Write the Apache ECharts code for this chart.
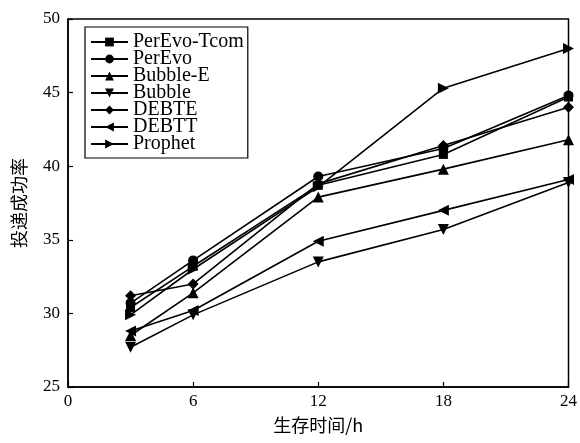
<!DOCTYPE html>
<html>
<head>
<meta charset="utf-8">
<script src="https://cdn.jsdelivr.net/npm/echarts@6/dist/echarts.min.js"></script>
<style>
  html, body { margin: 0; padding: 0; background: #fff; }
  #chart { width: 580px; height: 443px; }
</style>
</head>
<body>
<div id="chart"></div>
<script>
// Survival time (hours) on the x axis
const hours = [3, 6, 12, 18, 24];

// Delivery success rate per routing scheme
const perEvoTcom = [30.4, 33.2, 38.7, 40.8, 44.7];
const perEvo     = [30.7, 33.6, 39.3, 41.2, 44.8];
const bubbleE    = [28.5, 31.4, 37.9, 39.8, 41.8];
const bubble     = [27.7, 29.9, 33.5, 35.7, 38.9];
const debte      = [31.2, 32.0, 38.8, 41.4, 44.0];
const debtt      = [28.8, 30.2, 34.9, 37.0, 39.1];
const prophet    = [29.9, 33.0, 38.6, 45.3, 48.0];

const xTicks = [0, 6, 12, 18, 24];
const yTicks = [25, 30, 35, 40, 45, 50];

const FONT = '"Liberation Serif", "Times New Roman", serif';
const CJK = '"Noto Sans CJK SC", sans-serif';

const triDown  = 'path://M0,0 L10,0 L5,9 Z';
const triLeft  = 'path://M9,0 L9,10 L0,5 Z';
const triRight = 'path://M0,0 L0,10 L9,5 Z';

function line(name, values, symbol, size) {
  return {
    name: name,
    type: 'line',
    data: hours.map((h, i) => [h, values[i]]),
    symbol: symbol,
    symbolSize: size,
    showSymbol: true,
    lineStyle: { color: '#000', width: 1.6 },
    itemStyle: { color: '#000', borderColor: '#000', borderWidth: 0 },
    emphasis: { disabled: true },
    animation: false
  };
}

const chart = echarts.init(document.getElementById('chart'), null, { renderer: 'canvas' });
chart.setOption({
  animation: false,
  backgroundColor: '#fff',
  grid: {
    left: 68, right: 9, top: 19, bottom: 56,
    show: true, borderColor: '#000', borderWidth: 1.5, backgroundColor: 'transparent'
  },
  legend: {
    orient: 'vertical',
    left: 85, top: 27,
    padding: [5, 4, 4, 5],
    itemGap: -3,
    itemWidth: 37, itemHeight: 11,
    borderColor: '#000', borderWidth: 1.2,
    textStyle: { fontFamily: FONT, fontSize: 20, color: '#000' },
    data: ['PerEvo-Tcom', 'PerEvo', 'Bubble-E', 'Bubble', 'DEBTE', 'DEBTT', 'Prophet']
  },
  xAxis: {
    type: 'value',
    min: 0, max: 24, interval: 6,
    name: '生存时间/h',
    nameLocation: 'middle',
    nameGap: 29,
    nameTextStyle: { fontFamily: CJK, fontSize: 18, color: '#000' },
    axisLine: { lineStyle: { color: '#000', width: 1.5 } },
    axisTick: { inside: true, length: 5, lineStyle: { color: '#000', width: 1.2 } },
    axisLabel: {
      fontFamily: FONT, fontSize: 17, color: '#000', margin: 6,
      formatter: v => xTicks.includes(v) ? String(v) : ''
    },
    splitLine: { show: false }
  },
  yAxis: {
    type: 'value',
    min: 25, max: 50, interval: 5,
    name: '投递成功率',
    nameLocation: 'middle',
    nameGap: 40,
    nameRotate: 90,
    nameTextStyle: { fontFamily: CJK, fontSize: 18, color: '#000' },
    axisLine: { lineStyle: { color: '#000', width: 1.5 } },
    axisTick: { inside: true, length: 5, lineStyle: { color: '#000', width: 1.2 } },
    axisLabel: {
      fontFamily: FONT, fontSize: 17, color: '#000', margin: 8,
      formatter: v => yTicks.includes(v) ? String(v) : ''
    },
    splitLine: { show: false }
  },
  series: [
    line('PerEvo-Tcom', perEvoTcom, 'rect', 9),
    line('PerEvo', perEvo, 'circle', 10),
    line('Bubble-E', bubbleE, 'triangle', 11),
    line('Bubble', bubble, triDown, 11),
    line('DEBTE', debte, 'diamond', 11),
    line('DEBTT', debtt, triLeft, 11),
    line('Prophet', prophet, triRight, 11)
  ]
});
</script>
</body>
</html>
